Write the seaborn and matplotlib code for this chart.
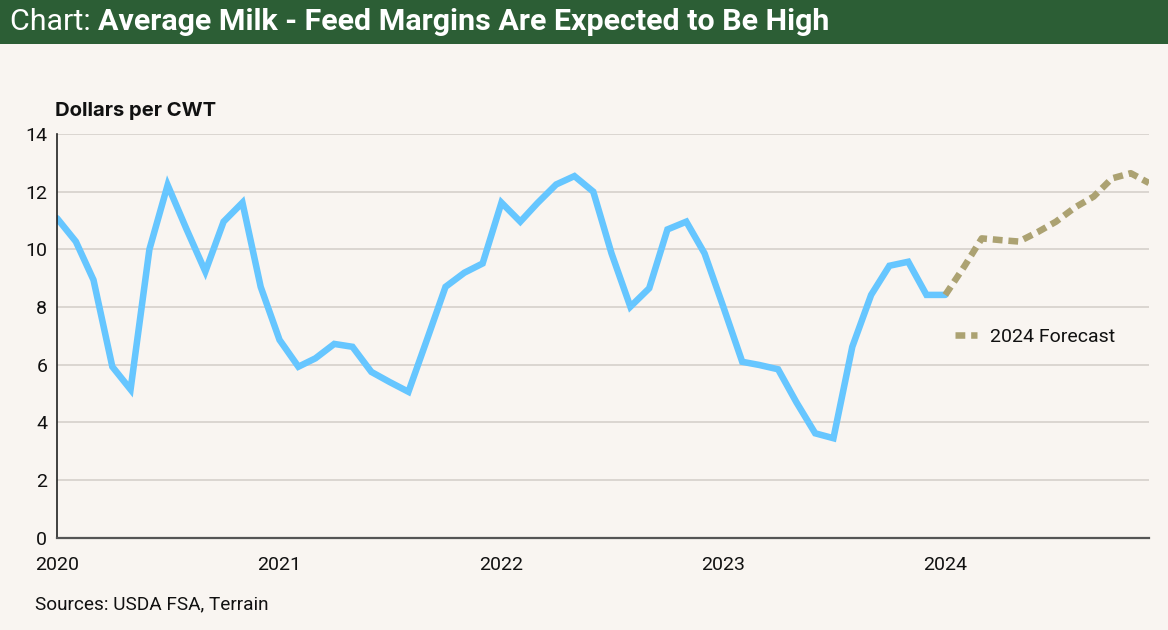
import pandas as pd
import matplotlib.pyplot as plt
import matplotlib.dates as mdates
import seaborn as sb
from matplotlib.patches import Rectangle

# monthly average milk - feed margin, dollars per cwt
actual_months = pd.date_range("2020-01-01", "2024-01-01", freq="MS")
actual_margin = [11.08, 10.27, 8.94, 5.93, 5.14, 10.0, 12.23, 10.7, 9.23, 10.96, 11.62, 8.7,
                 6.86, 5.93, 6.22, 6.72, 6.62, 5.75, 5.4, 5.06, 6.9, 8.7, 9.19, 9.51,
                 11.62, 10.96, 11.6, 12.25, 12.54, 12.0, 9.86, 8.01, 8.65, 10.69, 10.96, 9.86,
                 8.0, 6.1, 5.99, 5.84, 4.7, 3.62, 3.45, 6.62, 8.42, 9.43, 9.57, 8.42,
                 8.42]

forecast_months = pd.date_range("2024-01-01", "2024-12-01", freq="MS")
forecast_margin = [8.42, 9.4, 10.38, 10.32, 10.27, 10.6, 10.96, 11.45, 11.83, 12.46, 12.64, 12.3]

year_ticks = pd.date_range("2020-01-01", "2024-01-01", freq="YS")
year_labels = ["2020", "2021", "2022", "2023", "2024"]
y_ticks = [0, 2, 4, 6, 8, 10, 12, 14]

actual = pd.DataFrame({"month": actual_months, "margin": actual_margin})
forecast = pd.DataFrame({"month": forecast_months, "margin": forecast_margin})

bg = "#F9F5F1"
blue = "#66C6FF"
tan = "#ACA272"
green = "#2C5E35"

sb.set_style("white")
plt.rcParams["font.family"] = ["Roboto", "DejaVu Sans"]

fig = plt.figure(figsize=(11.68, 6.3), dpi=100, facecolor=bg)

# title bar
fig.patches.append(Rectangle((0, 1 - 44 / 630), 1, 44 / 630, transform=fig.transFigure,
                             facecolor=green, edgecolor="none", zorder=0))
t1 = fig.text(10 / 1168, 1 - 22 / 630, "Chart: ", color="white", fontsize=21.9,
              va="center", ha="left")
fig.canvas.draw()
bb = t1.get_window_extent()
fig.text(bb.x1 / 1168, 1 - 22 / 630, "Average Milk - Feed Margins Are Expected to Be High",
         color="white", fontsize=21.9, fontweight="bold", va="center", ha="left")

ax = fig.add_axes([57 / 1168, 1 - 537.7 / 630, 1092 / 1168, 403.7 / 630])
ax.set_facecolor(bg)

sb.lineplot(data=actual, x="month", y="margin", ax=ax, color=blue, linewidth=4.7)
sb.lineplot(data=forecast, x="month", y="margin", ax=ax, color=tan, linewidth=4.7,
            label="2024 Forecast")
ax.lines[0].set_solid_joinstyle("miter")
ax.lines[1].set_dashes([1.5, 0.9])
ax.lines[1].set_dash_capstyle("butt")

ax.set_xlim(actual_months[0], forecast_months[-1])
ax.set_ylim(0, 14)
ax.set_xticks(year_ticks)
ax.set_xticklabels(year_labels)
ax.set_yticks(y_ticks)
ax.set_xlabel("")
ax.set_ylabel("")

ax.grid(axis="y", color="#D8D3CE", linewidth=1.3)
ax.grid(axis="x", visible=False)
ax.set_axisbelow(True)
for s in ["top", "right"]:
    ax.spines[s].set_visible(False)
ax.spines["left"].set_color("#222222")
ax.spines["left"].set_linewidth(1.2)
ax.spines["bottom"].set_color("#555555")
ax.spines["bottom"].set_linewidth(1.6)

ax.tick_params(axis="y", length=0, pad=7, labelsize=14, labelcolor="#111111")
ax.tick_params(axis="x", length=5, width=1, color="#555555", direction="out", pad=8,
               labelsize=14, labelcolor="#111111")

leg = ax.legend(frameon=False, loc="center left", bbox_to_anchor=(0.822, 0.497),
                borderpad=0, borderaxespad=0, handlelength=1.13, handletextpad=0.67,
                fontsize=14)
for txt in leg.get_texts():
    txt.set_color("#111111")

fig.text(55 / 1168, 1 - 111 / 630, "Dollars per CWT", fontsize=14.6, fontweight="bold",
         family=["Inter", "DejaVu Sans"], va="center", ha="left", color="#111111")
fig.text(35 / 1168, 1 - 604 / 630, "Sources: USDA FSA, Terrain", fontsize=13.7,
         va="center", ha="left", color="#111111")

fig.savefig("out.png", dpi=100, facecolor=bg)
